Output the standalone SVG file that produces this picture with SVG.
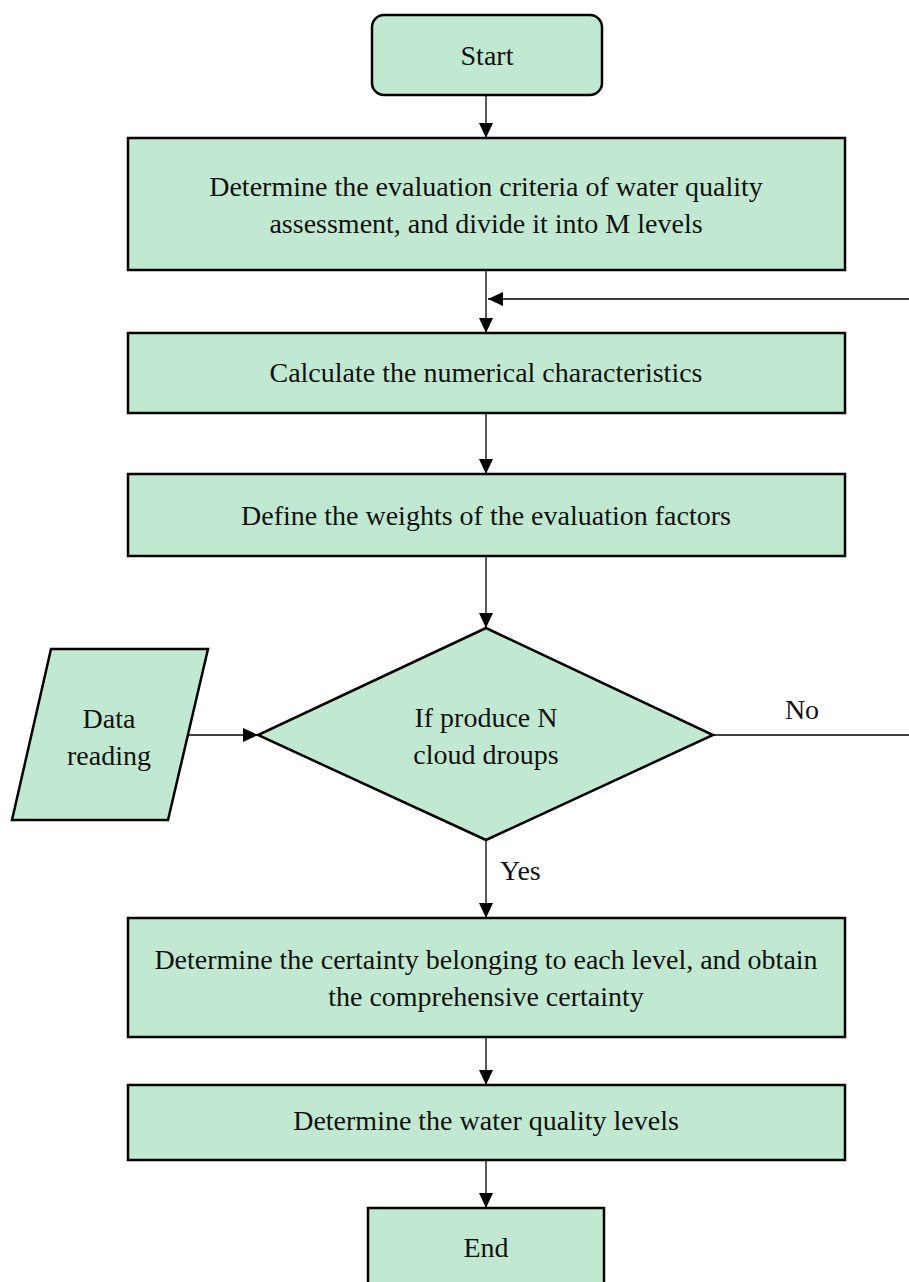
<svg xmlns="http://www.w3.org/2000/svg" width="909" height="1282" viewBox="0 0 909 1282">
  <style>
    .node { fill: #c1e9d1; stroke: #000; stroke-width: 2.5; }
    .lbl { font-family: "Liberation Serif", "Times New Roman", serif; font-size: 28px; fill: #111; text-anchor: middle; }
    .lbl-l { font-family: "Liberation Serif", "Times New Roman", serif; font-size: 28px; fill: #111; }
    .conn { fill: none; stroke: #000; stroke-width: 1.3; }
  </style>
  <defs>
    <marker id="arrow" markerUnits="userSpaceOnUse" markerWidth="15" markerHeight="14" refX="15" refY="7" orient="auto">
      <path d="M0,0 L15,7 L0,14 z" fill="#000"/>
    </marker>
  </defs>
  <rect width="909" height="1282" fill="#fff"/>

  <g id="start">
    <rect class="node" x="372" y="15" width="230" height="80" rx="12" ry="12"/>
    <text class="lbl" x="487" y="65">Start</text>
  </g>
  <g id="criteria">
    <rect class="node" x="128" y="138" width="717" height="132"/>
    <text class="lbl" x="486" y="196">Determine the evaluation criteria of water quality</text>
    <text class="lbl" x="486" y="233">assessment, and divide it into M levels</text>
  </g>
  <g id="numerical">
    <rect class="node" x="128" y="333" width="717" height="80"/>
    <text class="lbl" x="486" y="382">Calculate the numerical characteristics</text>
  </g>
  <g id="weights">
    <rect class="node" x="128" y="474" width="717" height="82"/>
    <text class="lbl" x="486" y="525">Define the weights of the evaluation factors</text>
  </g>
  <g id="decision">
    <polygon class="node" points="486,628 713,735 486,840 258,735"/>
    <text class="lbl" x="486" y="727">If produce N</text>
    <text class="lbl" x="486" y="764">cloud droups</text>
  </g>
  <g id="data">
    <polygon class="node" points="51,649 208,649 168,820 12,820"/>
    <text class="lbl" x="109" y="728">Data</text>
    <text class="lbl" x="109" y="765">reading</text>
  </g>
  <g id="certainty">
    <rect class="node" x="128" y="918" width="717" height="119"/>
    <text class="lbl" x="486" y="969">Determine the certainty belonging to each level, and obtain</text>
    <text class="lbl" x="486" y="1006">the comprehensive certainty</text>
  </g>
  <g id="levels">
    <rect class="node" x="128" y="1085" width="717" height="75"/>
    <text class="lbl" x="486" y="1130">Determine the water quality levels</text>
  </g>
  <g id="end">
    <rect class="node" x="368" y="1208" width="236" height="100"/>
    <text class="lbl" x="486" y="1257">End</text>
  </g>

  <g id="connectors">
    <line class="conn" x1="486" y1="95" x2="486" y2="138" marker-end="url(#arrow)"/>
    <line class="conn" x1="486" y1="270" x2="486" y2="333" marker-end="url(#arrow)"/>
    <line class="conn" x1="909" y1="299" x2="488" y2="299" marker-end="url(#arrow)"/>
    <line class="conn" x1="486" y1="413" x2="486" y2="474" marker-end="url(#arrow)"/>
    <line class="conn" x1="486" y1="556" x2="486" y2="628" marker-end="url(#arrow)"/>
    <line class="conn" x1="189" y1="735" x2="258" y2="735" marker-end="url(#arrow)"/>
    <line class="conn" x1="713" y1="735" x2="909" y2="735"/>
    <text class="lbl" x="802" y="719">No</text>
    <line class="conn" x1="486" y1="840" x2="486" y2="918" marker-end="url(#arrow)"/>
    <text class="lbl-l" x="500" y="880">Yes</text>
    <line class="conn" x1="486" y1="1037" x2="486" y2="1085" marker-end="url(#arrow)"/>
    <line class="conn" x1="486" y1="1160" x2="486" y2="1208" marker-end="url(#arrow)"/>
  </g>
</svg>
